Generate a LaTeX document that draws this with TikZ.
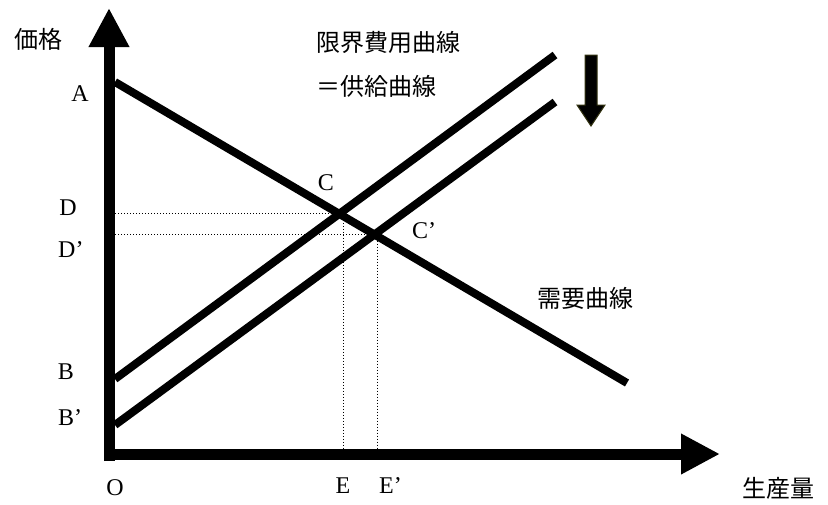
\documentclass[tikz,border=0pt]{standalone}
\usepackage{fontspec}
\setmainfont{Liberation Serif}
\newfontfamily\jpfont{Noto Sans CJK JP}
\usetikzlibrary{arrows.meta, calc}
\definecolor{arrowRim}{HTML}{333311}
\tikzset{
  axisLine/.style={line width=11pt, -{Triangle[length=39pt, width=38pt]}},
  curveLine/.style={line width=8pt},
  guideLine/.style={line width=1pt, dash pattern=on 1pt off 2pt},
  lbl/.style={font=\fontsize{24}{24}\selectfont, inner sep=0pt},
  jlbl/.style={font=\fontsize{24}{24}\jpfont, inner sep=0pt},
}

\begin{document}
\begin{tikzpicture}[x=1pt, y=-1pt]
  \useasboundingbox (0,0) rectangle (828,504);
  % axes and curve end points
  \coordinate (O) at (109,454);
  \coordinate (yTop) at (109,8);
  \coordinate (xEnd) at (720,454);
  \coordinate (A) at (115,82);
  \coordinate (dEnd) at (627,383);
  \coordinate (B) at (115,379);
  \coordinate (sEnd) at (555,55);
  \coordinate (B2) at (115,425);
  \coordinate (s2End) at (555,102);
  \coordinate (C) at (intersection of A--dEnd and B--sEnd);
  \coordinate (C2) at (intersection of A--dEnd and B2--s2End);

  % dotted guides
  \draw[guideLine] (C -| O) -- (C);
  \draw[guideLine] ($(C)+(4,0)$) -- ($(C |- O)+(4,0)$);
  \draw[guideLine] (C2 -| O) -- (C2);
  \draw[guideLine] ($(C2)+(3,0)$) -- ($(C2 |- O)+(3,0)$);

  \draw[axisLine] ($(O)+(0,7)$) -- (yTop);
  \draw[axisLine] ($(O)+(-5,0)$) -- (xEnd);

  \draw[curveLine] (A) -- (dEnd);
  \draw[curveLine] (B) -- (sEnd);
  \draw[curveLine] (B2) -- (s2End);

  % shift arrow
  \filldraw[fill=black, draw=arrowRim, line width=1pt]
    (585,55) -- (597,55) -- (597,105) -- (605,105) -- (591,126)
    -- (577,105) -- (585,105) -- cycle;

  \node[jlbl] (priceLbl) at (38,39) {価格};
  \node[lbl] (labA) at (80,94) {A};
  \node[lbl] (labD) at (68,208) {D};
  \node[lbl, anchor=west] (labD2) at (58,250) {D’};
  \node[lbl] (labB) at (66,372) {B};
  \node[lbl, anchor=west] (labB2) at (58,418) {B’};
  \node[lbl] (labO) at (115,488) {O};
  \node[lbl] (labE) at (343,486) {E};
  \node[lbl, anchor=west] (labE2) at (379,486) {E’};
  \node[lbl] (labC) at (326,183) {C};
  \node[lbl, anchor=west] (labC2) at (412,231) {C’};
  \node[jlbl, anchor=west] (mcLbl) at (316,42) {限界費用曲線};
  \node[jlbl, anchor=west] (supLbl) at (316,86) {＝供給曲線};
  \node[jlbl] (demLbl) at (585,298) {需要曲線};
  \node[jlbl, anchor=west] (qtyLbl) at (742,488) {生産量};
\end{tikzpicture}
\end{document}
